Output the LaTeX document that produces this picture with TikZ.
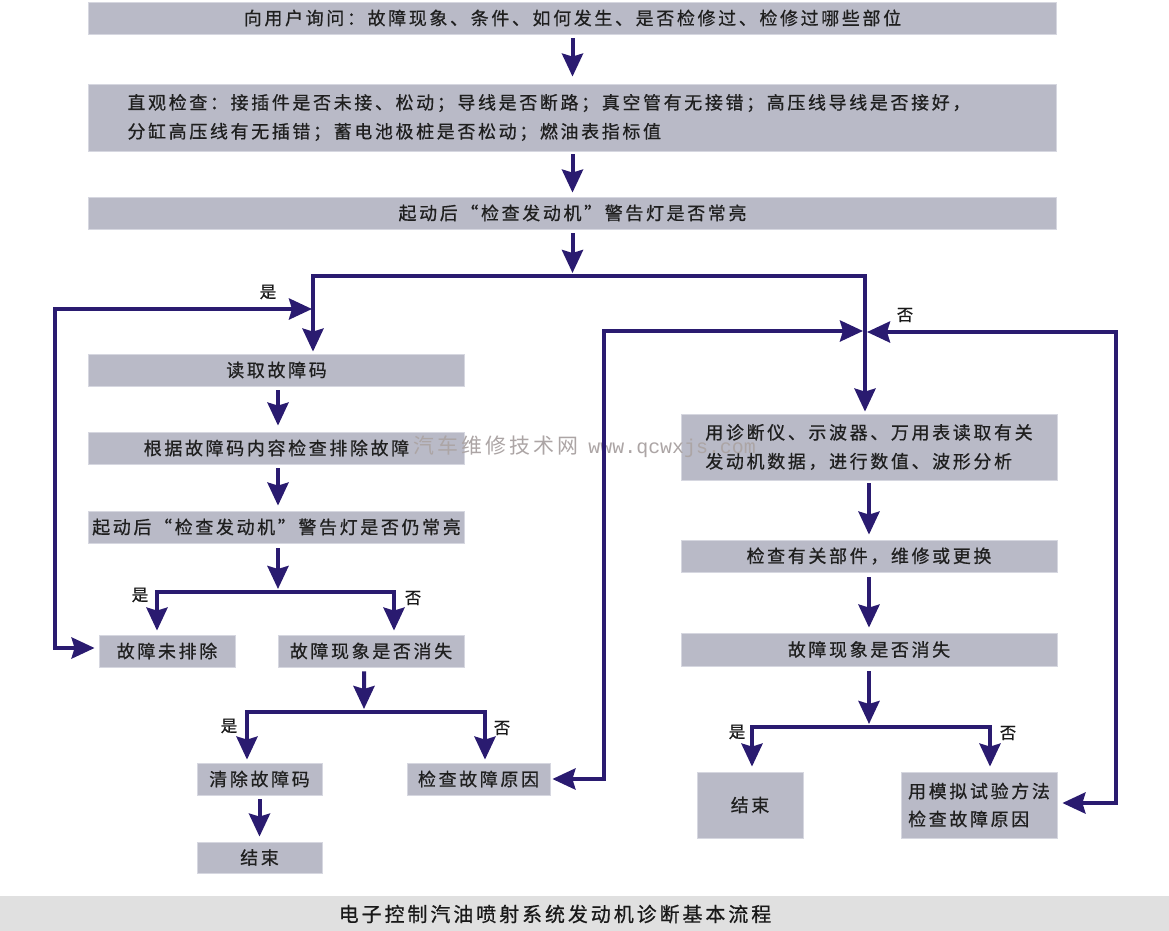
\documentclass[tikz,border=0pt]{standalone}
\usepackage{fontspec}
\usetikzlibrary{arrows.meta}
\newfontfamily\cjk[LetterSpace=15,FakeBold=0.7]{Noto Sans CJK SC}
\newfontfamily\cjkb[FakeBold=0.7]{Noto Sans CJK SC}
\newfontfamily\cjkl[LetterSpace=15]{Noto Sans CJK SC}
\newfontfamily\wmono{Liberation Mono}
\definecolor{navy}{RGB}{42,27,112}
\definecolor{boxgray}{RGB}{185,186,199}
\definecolor{boxedge}{RGB}{214,215,224}
\definecolor{capgray}{RGB}{224,224,224}
\definecolor{wmcol}{RGB}{172,165,165}
\tikzset{
  box/.style={fill=boxgray, draw=boxedge, line width=0.8bp, inner sep=0pt,
    font=\cjk\fontsize{18}{29}\selectfont, text=black!88},
  flow/.style={draw=navy, line width=4bp, -{Stealth[length=23bp,width=21bp,inset=3bp]}},
  dflow/.style={draw=navy, line width=4bp,
    {Stealth[length=23bp,width=21bp,inset=3bp]}-{Stealth[length=23bp,width=21bp,inset=3bp]}},
  lbl/.style={font=\cjkb\fontsize{16.5}{18}\selectfont, inner sep=0pt, text=black!90},
}
\begin{document}
\begin{tikzpicture}[x=1bp,y=-1bp]
\useasboundingbox (0,0) rectangle (1169,931);
\fill[white] (0,0) rectangle (1169,931);

% top column
\node[box, minimum width=968bp, minimum height=32bp] (q) at (572.5,18)
  {向用户询问：故障现象、条件、如何发生、是否检修过、检修过哪些部位};
\node[box, minimum height=67bp, text width=890bp, align=left, inner xsep=39bp] (v) at (572.5,117.5)
  {直观检查：接插件是否未接、松动；导线是否断路；真空管有无接错；高压线导线是否接好，\\
   分缸高压线有无插错；蓄电池极桩是否松动；燃油表指标值};
\node[box, minimum width=968bp, minimum height=32bp] (s) at (572.5,213)
  {起动后“检查发动机”警告灯是否常亮};

% left column
\node[box, minimum width=376bp, minimum height=32bp] (r) at (276.5,370) {读取故障码};
\node[box, minimum width=376bp, minimum height=32bp] (c) at (276.5,448) {根据故障码内容检查排除故障};
\node[box, minimum width=376bp, minimum height=32bp] (a) at (276.5,527) {起动后“检查发动机”警告灯是否仍常亮};
\node[box, minimum width=136bp, minimum height=32bp] (nf) at (167,651) {故障未排除};
\node[box, minimum width=186bp, minimum height=32bp] (d1) at (371,651) {故障现象是否消失};
\node[box, minimum width=125bp, minimum height=32bp] (clr) at (259.5,779) {清除故障码};
\node[box, minimum width=143bp, minimum height=32bp] (chk) at (478.5,779) {检查故障原因};
\node[box, minimum width=125bp, minimum height=31bp] (e1) at (259.5,857.5) {结束};

% right column
\node[box, minimum width=376bp, minimum height=66bp, align=left] (diag) at (869,447)
  {用诊断仪、示波器、万用表读取有关\\发动机数据，进行数值、波形分析};
\node[box, minimum width=376bp, minimum height=32bp] (fix) at (869,556) {检查有关部件，维修或更换};
\node[box, minimum width=376bp, minimum height=33bp] (d2) at (869,649.5) {故障现象是否消失};
\node[box, minimum width=106bp, minimum height=66bp] (e2) at (750,805) {结束};
\node[box, minimum width=156bp, minimum height=66bp, align=left, font=\cjk\fontsize{18}{28}\selectfont] (sim) at (979,805)
  {用模拟试验方法\\检查故障原因};

% caption band
\node[fill=capgray, minimum width=1169bp, minimum height=35bp, inner sep=0pt] (cap) at (584.5,913.5) {};
\node[inner sep=0pt, font=\cjk\fontsize{20}{20}\selectfont, text=black!90] (capt) at (555,914)
  {电子控制汽油喷射系统发动机诊断基本流程};

% watermark
\node[anchor=west, inner sep=0pt, text=wmcol] (wm) at (413,447)
  {\cjkl\fontsize{21}{21}\selectfont 汽车维修技术网\hspace{10bp}\wmono\fontsize{20}{20}\selectfont www.qcwxjs.com};

% main vertical flow
\draw[flow] ([yshift=-4bp]q.south) -- ([yshift=7bp]v.north);
\draw[flow] ([yshift=-3bp]v.south) -- ([yshift=4bp]s.north);
\coordinate (jt) at (572.5,276);
\draw[flow] ([yshift=-4bp]s.south) -- ([yshift=3bp]jt);
\draw[flow] (jt) -| ([xshift=36.5bp,yshift=2bp]r.north);
\draw[flow] (jt) -| ([xshift=-4bp,yshift=2bp]diag.north);

% left column arrows
\draw[flow] ([xshift=1.5bp,yshift=-4bp]r.south) -- ([xshift=1.5bp,yshift=6bp]c.north);
\draw[flow] ([xshift=1.5bp,yshift=-4bp]c.south) -- ([xshift=1.5bp,yshift=5bp]a.north);
\coordinate (b1) at (278,592);
\draw[flow] ([xshift=1.5bp,yshift=-5bp]a.south) -- ([yshift=3bp]b1);
\draw[flow] (b1) -| ([xshift=-10bp,yshift=4bp]nf.north);
\draw[flow] (b1) -| ([xshift=23bp,yshift=4bp]d1.north);
\coordinate (b2) at (364,712);
\draw[flow] ([xshift=-7bp,yshift=-4bp]d1.south) -- ([yshift=3bp]b2);
\draw[flow] (b2) -| ([xshift=-12.5bp,yshift=3bp]clr.north);
\draw[flow] (b2) -| ([xshift=6.5bp,yshift=3bp]chk.north);
\draw[flow] ([yshift=-4bp]clr.south) -- ([yshift=5bp]e1.north);

% right column arrows
\draw[flow] ([yshift=-3bp]diag.south) -- ([yshift=5bp]fix.north);
\draw[flow] ([yshift=-5bp]fix.south) -- ([yshift=5bp]d2.north);
\coordinate (b3) at (869,727);
\draw[flow] ([yshift=-5bp]d2.south) -- ([yshift=3bp]b3);
\draw[flow] (b3) -| ([xshift=2bp,yshift=5bp]e2.north);
\draw[flow] (b3) -| ([xshift=11bp,yshift=5bp]sim.north);

% loops
\coordinate (lo) at (55,309);
\coordinate (xo) at (312,309);
\draw[dflow] ([xshift=-4bp,yshift=3bp]nf.west) -| (lo) -- (xo);
\coordinate (lc) at (604,331);
\coordinate (xl) at (863,331);
\draw[dflow] ([xshift=2bp]chk.east) -| (lc) -- (xl);
\coordinate (rc) at (1116,332);
\coordinate (xr) at (867,332);
\draw[dflow] ([xshift=5bp,yshift=2bp]sim.east) -| (rc) -- (xr);

% labels
\node[lbl] (y0) at (268,292) {是};
\node[lbl] (n0) at (905,315) {否};
\node[lbl] (y1) at (140,595) {是};
\node[lbl] (n1) at (413,598) {否};
\node[lbl] (y2) at (229,726) {是};
\node[lbl] (n2) at (502,728) {否};
\node[lbl] (y3) at (737,732) {是};
\node[lbl] (n3) at (1008,733) {否};
\end{tikzpicture}
\end{document}
